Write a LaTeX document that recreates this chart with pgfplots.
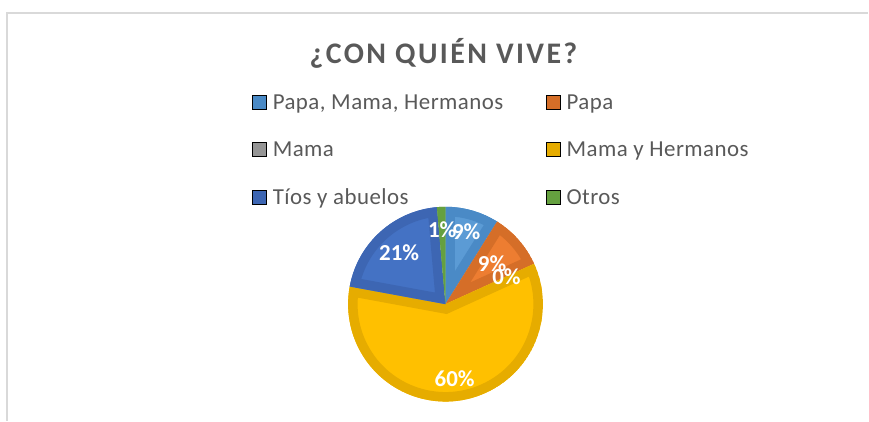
\documentclass[border=0pt]{standalone}
\usepackage{pgfplots}
\pgfplotsset{compat=1.18}
\usepackage{pgfplotstable}
\usepackage{fontspec}
\setmainfont{Carlito}
\newfontfamily\legfont[LetterSpace=2]{Carlito}
\newfontfamily\titfont[LetterSpace=8]{Carlito}
\definecolor{c1}{HTML}{5B9BD5}\definecolor{c1d}{HTML}{4A8AC6}
\definecolor{c2}{HTML}{ED7D31}\definecolor{c2d}{HTML}{D56E28}
\definecolor{c3}{HTML}{A5A5A5}\definecolor{c3d}{HTML}{959595}
\definecolor{c4}{HTML}{FFC000}\definecolor{c4d}{HTML}{E6AC00}
\definecolor{c5}{HTML}{4472C4}\definecolor{c5d}{HTML}{3D66B3}
\definecolor{c6}{HTML}{70AD47}\definecolor{c6d}{HTML}{65A03F}
\definecolor{txt}{HTML}{595959}
\definecolor{frame}{HTML}{D9D9D9}

\pgfplotstableread[col sep=semicolon]{
name;value;lr;fc;bc
Papa, Mama, Hermanos;8.9;75;c1;c1d
Papa;9.3;62;c2;c2d
Mama;0;67;c3;c3d
Mama y Hermanos;59.7;75;c4;c4d
Tíos y abuelos;20.7;69;c5;c5d
Otros;1.4;74.5;c6;c6d
}\piedata

\begin{document}
\def\cum{90}%
\foreach \i in {0,...,5}{%
  \pgfplotstablegetelem{\i}{value}\of\piedata \let\val\pgfplotsretval
  \expandafter\xdef\csname v\i\endcsname{\val}%
  \pgfmathsetmacro\ee{\cum-3.6*\val}%
  \pgfmathsetmacro\mm{\cum-1.8*\val}%
  \pgfmathtruncatemacro\rr{round(\val)}%
  \expandafter\xdef\csname aS\i\endcsname{\cum}%
  \expandafter\xdef\csname aE\i\endcsname{\ee}%
  \expandafter\xdef\csname aM\i\endcsname{\mm}%
  \expandafter\xdef\csname pc\i\endcsname{\rr}%
  \xdef\cum{\ee}%
  \pgfplotstablegetelem{\i}{lr}\of\piedata \expandafter\xdef\csname lr\i\endcsname{\pgfplotsretval}%
  \pgfplotstablegetelem{\i}{fc}\of\piedata \expandafter\xdef\csname fc\i\endcsname{\pgfplotsretval}%
  \pgfplotstablegetelem{\i}{bc}\of\piedata \expandafter\xdef\csname bc\i\endcsname{\pgfplotsretval}%
}%
\begin{tikzpicture}
\begin{axis}[
  scale only axis, width=869bp, height=421bp,
  xmin=0, xmax=869, ymin=0, ymax=421,
  hide axis, clip=false,
  legend columns=2,
  legend cell align=left,
  legend image code/.code={\fill[#1] (0bp,-7bp) rectangle (14bp,7bp);},
  legend style={at={(axis cs:252.7,326)}, anchor=north west, draw=none, fill=none,
    inner sep=0pt, outer sep=0pt, font=\legfont\fontsize{23}{27}\selectfont, text=txt,
    row sep=33.2bp, column sep=6bp,
    nodes={inner sep=0pt, text height=14bp, text depth=0bp},
    /tikz/every even column/.append style={column sep=43bp}},
]
\path (axis cs:0,0) rectangle (axis cs:869,421);
\addplot[frame, line width=2bp, forget plot] coordinates {(7,0) (7,408) (869,408)};

\pgfplotsinvokeforeach{0,...,5}{%
  \ifdim\csname v#1\endcsname pt>0pt
  \begin{scope}
    \clip (axis cs:446,116.5) -- ++(\csname aS#1\endcsname:97.5bp)
      arc[start angle=\csname aS#1\endcsname, end angle=\csname aE#1\endcsname, radius=97.5bp] -- cycle;
    \fill[\csname fc#1\endcsname] (axis cs:446,116.5) -- ++(\csname aS#1\endcsname:97.5bp)
      arc[start angle=\csname aS#1\endcsname, end angle=\csname aE#1\endcsname, radius=97.5bp] -- cycle;
    \draw[\csname bc#1\endcsname, line width=19bp] (axis cs:446,116.5) -- ++(\csname aS#1\endcsname:97.5bp)
      arc[start angle=\csname aS#1\endcsname, end angle=\csname aE#1\endcsname, radius=97.5bp] -- cycle;
  \end{scope}
  \fi
}
\pgfplotsinvokeforeach{0,...,5}{%
  \node[text=white, font=\bfseries\fontsize{23}{23}\selectfont]
    at ([shift={(\csname aM#1\endcsname:\csname lr#1\endcsname bp)}]axis cs:446,116.5) {\csname pc#1\endcsname\%};
}

\node[font=\titfont\bfseries\fontsize{30}{31}\selectfont, text=txt, anchor=base] at (axis cs:444,357.5) {¿CON QUIÉN VIVE?};

\addlegendimage{fill=c1d}\addlegendentry{Papa, Mama, Hermanos}
\addlegendimage{fill=c2d}\addlegendentry{Papa}
\addlegendimage{fill=c3d}\addlegendentry{Mama}
\addlegendimage{fill=c4d}\addlegendentry{Mama y Hermanos}
\addlegendimage{fill=c5d}\addlegendentry{Tíos y abuelos}
\addlegendimage{fill=c6d}\addlegendentry{Otros}
\end{axis}
\end{tikzpicture}
\end{document}
